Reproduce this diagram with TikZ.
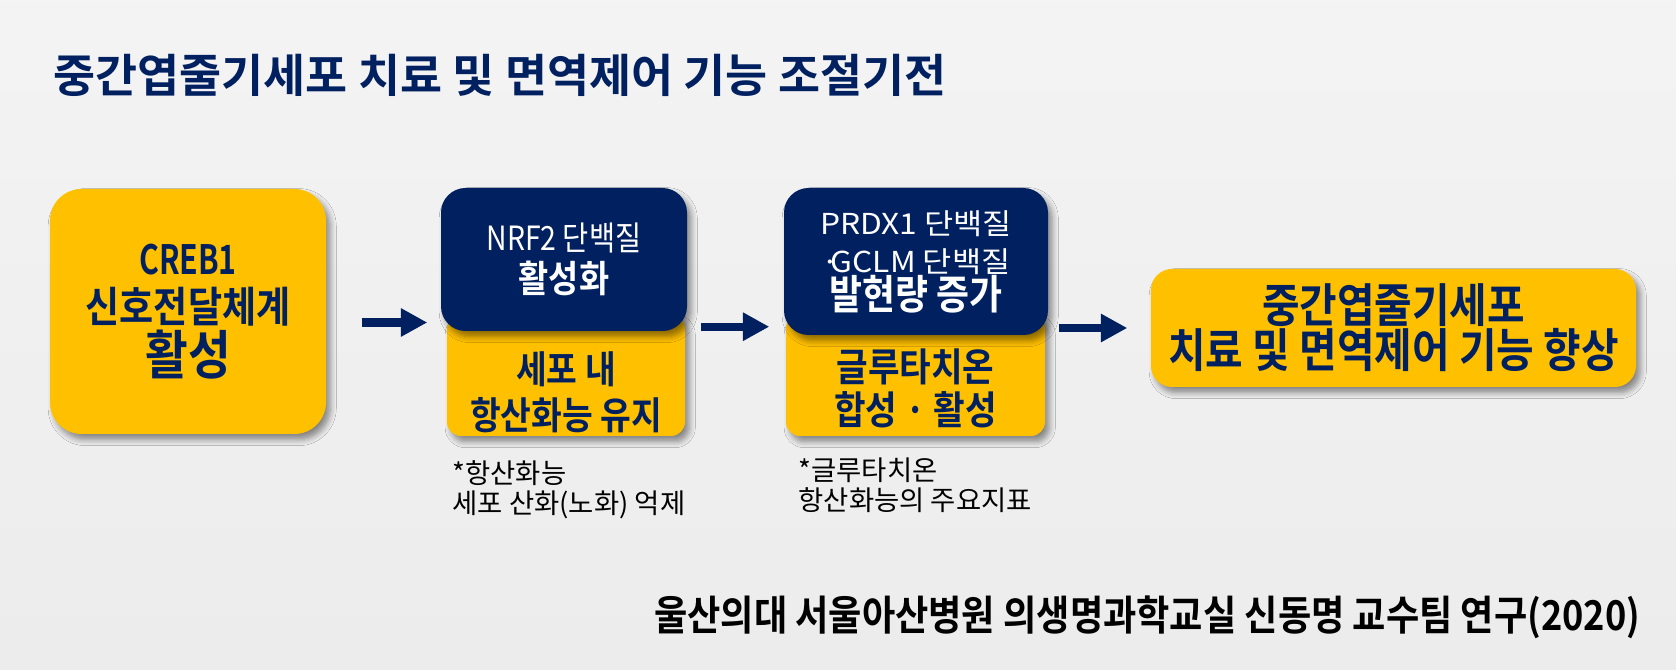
\documentclass[tikz,border=0pt]{standalone}
\usepackage{fontspec}
\usetikzlibrary{arrows.meta, shadows.blur}
\newfontfamily\krtext{Noto Sans CJK KR}
\newfontfamily\krwide[FakeStretch=1.1]{Noto Sans CJK KR}
\newfontfamily\krlight[FakeStretch=0.85]{Noto Sans CJK KR}
\newfontfamily\krhead[FakeStretch=0.88]{Noto Sans CJK KR Bold}
\newfontfamily\krnarrow[FakeStretch=0.75]{Noto Sans CJK KR Bold}
\newfontfamily\krtitle{Noto Sans CJK KR Bold}
\definecolor{navy}{RGB}{0, 32, 96}
\definecolor{gold}{RGB}{255, 192, 0}

\begin{document}
\begin{tikzpicture}[
    shadowed/.style={blur shadow={shadow xshift=1.2pt, shadow yshift=-1.6pt,
        shadow blur steps=6, shadow opacity=45}},
    goldbox/.style={fill=gold, rounded corners=#1, shadowed, inner sep=0pt,
        align=center, text=navy, font=\krhead},
    goldbox/.default=4pt,
    navybox/.style={fill=navy, rounded corners=7pt, shadowed, inner sep=0pt,
        align=center, text=white},
    flow/.style={draw=navy, line width=2.3pt, -{Triangle[length=7.5pt, width=7.6pt]}},
    note/.style={font=\krtext\fontsize{7.8}{8.6}\selectfont, align=left,
        anchor=north west, inner sep=0pt}
]

    % background
    \shade[top color=gray!9, middle color=white, bottom color=gray!15]
        (0,0) rectangle (16.76,-6.70);
    \useasboundingbox (0,0) rectangle (16.76,-6.70);

    % title
    \node[anchor=west, inner sep=0pt, text=navy,
          font=\krtitle\fontsize{13}{15}\selectfont] (title) at (0.53,-0.75)
        {중간엽줄기세포 치료 및 면역제어 기능 조절기전};

    % ==========================================
    % BOXES
    % ==========================================
    \node[goldbox=9pt, minimum width=2.76cm, minimum height=2.45cm,
          font=\krhead\fontsize{12}{13.6}\selectfont] (creb) at (1.88,-3.115)
        {{\krnarrow\fontsize{11.5}{13.6}\selectfont CREB1}\\신호전달체계\\
         {\fontsize{15}{13}\selectfont 활성}};

    % lower gold boxes first, navy boxes on top
    \node[goldbox, minimum width=2.38cm, minimum height=1.21cm] (keep) at (5.66,-3.755) {};
    \node[goldbox, minimum width=2.59cm, minimum height=1.21cm] (gsh)  at (9.155,-3.755) {};

    \node[navybox, minimum width=2.46cm, minimum height=1.43cm] (nrf) at (5.64,-2.595)
        {{\krlight\fontsize{9.5}{13}\selectfont NRF2 단백질}\\
         {\krhead\fontsize{10.6}{13}\selectfont 활성화}};
    \node[navybox, minimum width=2.64cm, minimum height=1.47cm] (prdx) at (9.16,-2.615) {};

    % texts of the boxes with two parts
    \node[align=center, text=white,
          font=\krwide\fontsize{8.2}{9.7}\selectfont\lineskiplimit-10pt\relax]
        (prdxlabel) at (9.16,-2.62)
        {PRDX1 단백질\\[1pt]
         ·\kern-0.3em GCLM 단백질\\[1pt]
         {\krhead\fontsize{11.6}{9.7}\selectfont 발현량 증가}};
    \node[align=center, text=navy, font=\krhead\fontsize{10.8}{13}\selectfont]
        (keeplabel) at (5.66,-3.92) {세포 내\\항산화능 유지};
    \node[align=center, text=navy, font=\krhead\fontsize{11.1}{12.4}\selectfont]
        (gshlabel) at (9.155,-3.885) {글루타치온\\합성 · 활성};

    \node[goldbox=6pt, minimum width=4.85cm, minimum height=1.18cm,
          font=\krhead\fontsize{13.2}{12.8}\selectfont] (final) at (13.935,-3.28)
        {중간엽줄기세포\\치료 및 면역제어 기능 향상};

    % ==========================================
    % ARROWS
    % ==========================================
    \draw[flow, shorten <=0.35cm, shorten >=0.19cm]
        ([yshift=-1.1mm]creb.east) -- ([yshift=-1.1mm]creb.east -| keep.west);
    \draw[flow, shorten <=0.15cm, shorten >=0.16cm]
        ([yshift=0.5mm]keep.east |- nrf.south) -- ([yshift=0.5mm]gsh.west |- nrf.south);
    \draw[flow, shorten <=0.13cm, shorten >=0.23cm]
        (final.west -| gsh.east) -- (final.west);

    % ==========================================
    % NOTES
    % ==========================================
    \node[note] (note1) at (4.52,-4.60) {*항산화능\\세포 산화(노화) 억제};
    \node[note] (note2) at (7.98,-4.57) {*글루타치온\\항산화능의 주요지표};

    \node[anchor=east, inner sep=0pt, font=\krhead\fontsize{11.7}{13}\selectfont]
        (credit) at (16.41,-6.17)
        {울산의대 서울아산병원 의생명과학교실 신동명 교수팀 연구(2020)};

\end{tikzpicture}
\end{document}
